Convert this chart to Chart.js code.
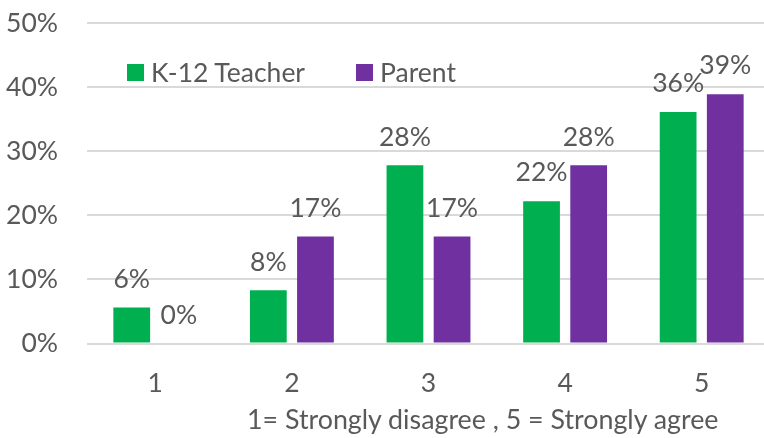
<!DOCTYPE html>
<html>
<head>
<meta charset="utf-8">
<script src="https://cdn.jsdelivr.net/npm/chart.js@4"></script>
<style>
  html, body { margin: 0; padding: 0; background: #fff; overflow: hidden; }
  #wrap { position: relative; width: 776px; height: 438px; }
  #chart-legend { position: absolute; left: 127px; top: 56px; margin: 0; padding: 0; list-style: none; display: flex; }
  .chart-legend-item { display: flex; align-items: center; margin-right: 51px; }
  .chart-legend-item-box { width: 17px; height: 17px; margin-right: 7px; }
  .chart-legend-item-label { margin: 0; font: 26.5px Lato; color: #595959; }
  #x-title { position: absolute; left: 247px; top: 403px; font: 26.8px Lato; color: #595959; white-space: nowrap; }
</style>
</head>
<body>
<div id="wrap">
  <canvas id="myChart" width="776" height="438"></canvas>
  <ul id="chart-legend"></ul>
  <div id="x-title">1= Strongly disagree , 5 = Strongly agree</div>
</div>
<script>
const textGray = "#595959";
const gridGray = "#D9D9D9";
const categories = ["1", "2", "3", "4", "5"];
const teacherValues = [5.6, 8.3, 27.8, 22.2, 36.1];
const parentValues = [0, 16.7, 16.7, 27.8, 38.9];
const yTicks = [0, 10, 20, 30, 40, 50];

const data = {
  labels: categories,
  datasets: [{
      label: 'K-12 Teacher',
      data: teacherValues,
      backgroundColor: "#00B050",
    },
    {
      label: 'Parent',
      data: parentValues,
      backgroundColor: "#7030A0",
    }
  ]
};

// value labels above each bar
const valueLabelPlugin = {
  id: 'valueLabels',
  afterDatasetsDraw(chart) {
    const c = chart.ctx;
    c.save();
    c.font = "26.5px Lato";
    c.fillStyle = textGray;
    c.textAlign = "center";
    c.textBaseline = "bottom";
    chart.data.datasets.forEach((ds, i) => {
      chart.getDatasetMeta(i).data.forEach((bar, j) => {
        c.fillText(Math.round(ds.data[j]) + "%", bar.x, bar.y - 15);
      });
    });
    c.restore();
  }
};

const legendPlugin = {
  id: 'htmlLegend',
  afterUpdate(chart) {
    const items = chart.options.plugins.legend.labels.generateLabels(chart);
    const legend = document.getElementById("chart-legend");
    while (legend.firstChild) legend.firstChild.remove();
    items.forEach(item => {
      const li = document.createElement("li");
      li.classList.add("chart-legend-item");
      const box = document.createElement("div");
      box.classList.add("chart-legend-item-box");
      box.style.background = item.fillStyle;
      const label = document.createElement("p");
      label.classList.add("chart-legend-item-label");
      label.appendChild(document.createTextNode(item.text));
      li.appendChild(box);
      li.appendChild(label);
      legend.appendChild(li);
    });
  }
};

const config = {
  type: 'bar',
  data: data,
  options: {
    responsive: false,
    animation: false,
    datasets: {
      bar: { categoryPercentage: 0.69, barPercentage: 0.78 }
    },
    layout: { padding: { top: 23, right: 6, bottom: 0, left: 0 } },
    plugins: {
      legend: { display: false },
      tooltip: { enabled: false },
    },
    scales: {
      x: {
        grid: { display: false },
        border: { display: false },
        ticks: { color: textGray, font: { family: "Lato", size: 26.5 }, padding: 16 },
        afterFit(scale) {
          scale.height = 94.5;
          scale.paddingLeft = 0;
          scale.paddingRight = 0;
        }
      },
      y: {
        min: 0,
        max: 50,
        afterBuildTicks(scale) { scale.ticks = yTicks.map(v => ({ value: v })); },
        grid: { color: gridGray, lineWidth: 2, drawTicks: false },
        border: { display: false },
        ticks: {
          color: textGray,
          font: { family: "Lato", size: 26.5 },
          padding: 29,
          callback: v => v + '%'
        },
        afterFit(scale) {
          scale.width = 87;
          scale.paddingTop = 0;
          scale.paddingBottom = 0;
        }
      }
    }
  },
  plugins: [legendPlugin, valueLabelPlugin]
};
new Chart("myChart", config);
</script>
</body>
</html>
